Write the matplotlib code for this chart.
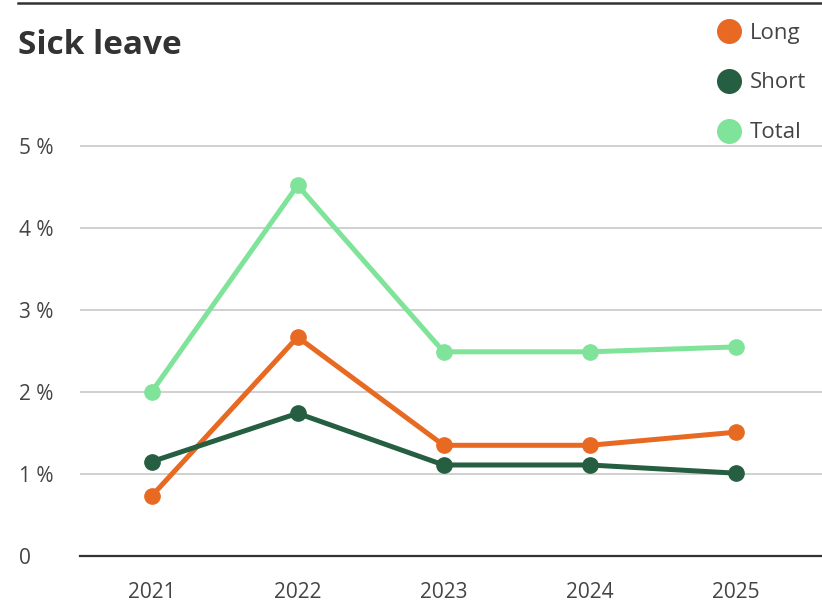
import matplotlib.pyplot as plt
from matplotlib.lines import Line2D

plt.rcParams['font.family'] = ['Open Sans', 'DejaVu Sans']

years = ['2021', '2022', '2023', '2024', '2025']
long_leave = [0.73, 2.67, 1.35, 1.35, 1.51]
short_leave = [1.15, 1.74, 1.11, 1.11, 1.01]
total_leave = [2.0, 4.52, 2.49, 2.49, 2.55]
y_ticks = [0, 1, 2, 3, 4, 5]
y_labels = ['0', '1 %', '2 %', '3 %', '4 %', '5 %']

W, H = 822, 607
fig = plt.figure(figsize=(W / 100, H / 100), dpi=100)
ax = fig.add_axes([80 / W, 51 / H, 1 - 80 / W, 426.4 / H])

x = list(range(len(years)))
series = [('Long', long_leave, '#E86A22'),
          ('Short', short_leave, '#265E42'),
          ('Total', total_leave, '#80E39A')]
for name, vals, col in series:
    ax.plot(x, vals, color=col, lw=3.6, marker='o', ms=11, label=name,
            solid_capstyle='round', zorder=3)

ax.set_xlim(-0.49, 4.59)
ax.set_ylim(0, 5.2)
ax.set_xticks(x)
ax.set_xticklabels(years)
ax.set_yticks(y_ticks)
ax.set_yticklabels(y_labels)
ax.tick_params(length=0, labelsize=15, colors='#444444')
ax.tick_params(axis='y', pad=44)
ax.tick_params(axis='x', pad=19)
for lab in ax.get_yticklabels():
    lab.set_ha('left')
ax.yaxis.grid(True, color='#c8c8c8', lw=1.2)
ax.set_axisbelow(True)
for s in ['top', 'right', 'left']:
    ax.spines[s].set_visible(False)
ax.spines['bottom'].set_color('#333333')
ax.spines['bottom'].set_linewidth(1.6)
ax.spines['bottom'].set_zorder(4)

handles = [Line2D([], [], ls='none', marker='o', ms=17, color=c) for _, _, c in series]
fig.legend(handles, [s[0] for s in series], loc='upper right',
           bbox_to_anchor=(1.0, 1 - 7 / H), frameon=False, fontsize=16,
           labelcolor='#444444', handletextpad=0.35, labelspacing=1.3,
           borderaxespad=0.3, handlelength=1.2)

fig.add_artist(Line2D([18 / W, 1], [1 - 3 / H] * 2, transform=fig.transFigure,
                      color='#333333', lw=1.8))
fig.text(18 / W, 1 - 45 / H, 'Sick leave', fontsize=24, fontweight='bold',
         color='#333333', va='center', ha='left')

fig.savefig('out.png', dpi=100)
